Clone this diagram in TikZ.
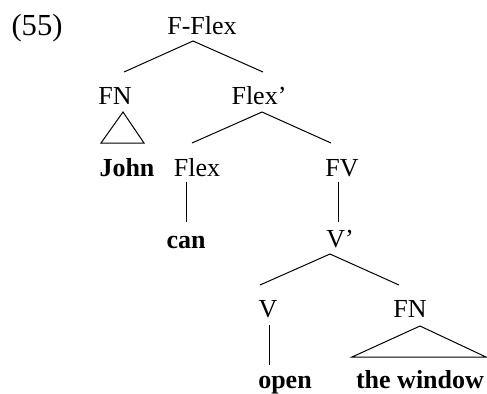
\documentclass[tikz,border=0pt]{standalone}
\usepackage{fontspec}
\setmainfont{Liberation Serif}
\usetikzlibrary{calc}

\begin{document}
\begin{tikzpicture}[x=0.5pt, y=-0.5pt, line width=0.5pt,
    lbl/.style={inner sep=0pt, anchor=base, font=\fontsize{13}{15}\selectfont},
    word/.style={lbl, font=\fontsize{13}{15}\selectfont\bfseries}]
  \useasboundingbox (0, 0) rectangle (487, 393);

  % labels
  \node [lbl, font=\fontsize{15.3}{18}\selectfont] (ex) at (37, 35) {(55)};
  \node [lbl] (fflex) at (202, 34) {F-Flex};
  \node [lbl] (fn) at (115, 104) {FN};
  \node [lbl] (flexbar) at (259, 104) {Flex’};
  \node [word] (john) at (127, 176) {John};
  \node [lbl] (flex) at (197, 176) {Flex};
  \node [lbl] (fv) at (342, 176) {FV};
  \node [word] (can) at (186, 248) {can};
  \node [lbl] (vbar) at (340, 247) {V’};
  \node [lbl] (v) at (268, 317) {V};
  \node [lbl] (fnobj) at (410, 317) {FN};
  \node [word] (open) at (285, 388) {open};
  \node [word] (window) at (420, 388) {the window};

  % branches
  \draw ($(fn.base)+(9,-32)$) -- ($(fflex.base)+(-9,7)$) -- ($(flexbar.base)+(4,-32)$);
  \draw ($(flex.base)+(-5,-33)$) -- ($(flexbar.base)+(3,8)$) -- ($(fv.base)+(-11,-33)$);
  \draw ($(flex.base)+(-11,6)$) -- ($(can.base)+(0,-26)$);
  \draw ($(fv.base)+(-4,6)$) -- ($(vbar.base)+(-2,-25)$);
  \draw ($(v.base)+(-8,-32)$) -- ($(vbar.base)+(-10,7)$) -- ($(fnobj.base)+(-11,-32)$);
  \draw ($(v.base)+(1,8)$) -- ($(open.base)+(-16,-23)$);

  % triangles
  \draw ($(fn.base)+(8,8)$) -- ($(john.base)+(-26,-33)$) -- ($(john.base)+(17,-33)$) -- cycle;
  \draw ($(fnobj.base)+(10,9)$) -- ($(window.base)+(-68,-31)$) -- ($(window.base)+(66,-31)$) -- cycle;
\end{tikzpicture}
\end{document}
